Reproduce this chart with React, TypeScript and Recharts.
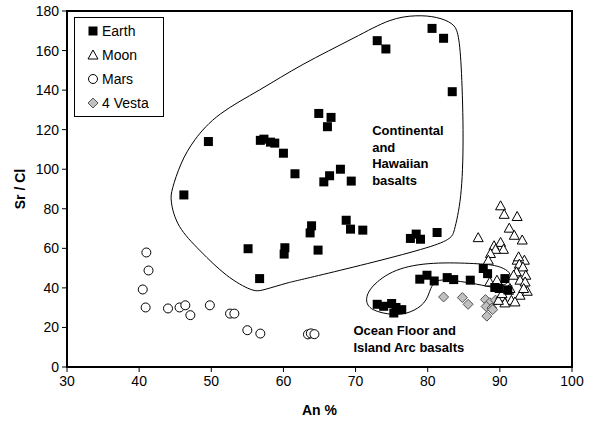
import React from 'react'
import {
  ScatterChart,
  Scatter,
  XAxis,
  YAxis,
  ReferenceArea,
  ReferenceDot,
  Legend
} from 'recharts'

const FONT = '"Liberation Sans", Arial, Helvetica, sans-serif'

const xTicks = [30, 40, 50, 60, 70, 80, 90, 100]
const yTicks = [0, 20, 40, 60, 80, 100, 120, 140, 160, 180]

const earth = [
  { x: 46.2, y: 87 }, { x: 49.6, y: 114 }, { x: 56.8, y: 114.6 }, { x: 57.3, y: 115.2 },
  { x: 58.2, y: 113.7 }, { x: 58.8, y: 113.2 }, { x: 60.0, y: 108.1 }, { x: 61.6, y: 97.7 },
  { x: 80.6, y: 171.2 }, { x: 82.2, y: 166.2 }, { x: 73.0, y: 165 }, { x: 74.2, y: 160.8 },
  { x: 83.4, y: 139.2 }, { x: 64.9, y: 128.2 }, { x: 66.6, y: 126.2 }, { x: 66.1, y: 121.5 },
  { x: 65.6, y: 93.6 }, { x: 66.4, y: 96.7 }, { x: 67.9, y: 100 }, { x: 69.4, y: 94 },
  { x: 63.9, y: 71.4 }, { x: 63.7, y: 67.8 }, { x: 68.7, y: 74.2 }, { x: 69.3, y: 69.7 },
  { x: 71.0, y: 69.2 }, { x: 60.2, y: 60.3 }, { x: 60.1, y: 57.1 }, { x: 64.8, y: 59.1 },
  { x: 55.1, y: 59.8 }, { x: 56.7, y: 44.7 }, { x: 77.6, y: 65 }, { x: 78.4, y: 67.2 },
  { x: 79.0, y: 64.6 }, { x: 81.3, y: 68 }, { x: 78.9, y: 44.4 }, { x: 79.9, y: 46.4 },
  { x: 80.9, y: 43.5 }, { x: 82.7, y: 45.2 }, { x: 83.6, y: 44.2 }, { x: 85.9, y: 43.9 },
  { x: 87.7, y: 49.8 }, { x: 88.3, y: 47.2 }, { x: 90.7, y: 44.7 }, { x: 89.3, y: 40.2 },
  { x: 89.9, y: 39.7 }, { x: 91.1, y: 39.0 }, { x: 73.0, y: 31.7 }, { x: 73.9, y: 30.7 },
  { x: 75.0, y: 32.1 }, { x: 75.6, y: 30.1 }, { x: 76.4, y: 29.0 }, { x: 75.3, y: 27.3 }
]

const moon = [
  { x: 90.1, y: 81.5 }, { x: 90.6, y: 77.2 }, { x: 92.4, y: 76.1 }, { x: 91.3, y: 70.2 },
  { x: 87.0, y: 65.4 }, { x: 92.0, y: 66.6 }, { x: 93.1, y: 64.2 }, { x: 90.1, y: 63.0 },
  { x: 89.2, y: 61.3 }, { x: 90.5, y: 59.5 }, { x: 89.4, y: 59.5 }, { x: 88.7, y: 57.4 },
  { x: 88.4, y: 54.0 }, { x: 92.4, y: 54.0 }, { x: 93.4, y: 54.0 }, { x: 92.6, y: 55.7 },
  { x: 92.7, y: 52.0 }, { x: 93.2, y: 50.6 }, { x: 92.3, y: 48.1 }, { x: 93.6, y: 46.4 },
  { x: 91.9, y: 46.4 }, { x: 88.6, y: 43.0 }, { x: 89.6, y: 43.9 }, { x: 92.8, y: 43.9 },
  { x: 93.5, y: 43.0 }, { x: 91.2, y: 38.8 }, { x: 92.8, y: 36.3 }, { x: 93.8, y: 38.3 },
  { x: 90.3, y: 35.4 }, { x: 91.6, y: 33.7 }, { x: 90.7, y: 32.4 }, { x: 92.1, y: 32.9 },
  { x: 89.8, y: 33.7 }, { x: 93.3, y: 39.7 }, { x: 91.4, y: 39.7 }, { x: 90.3, y: 37.1 }
]

const mars = [
  { x: 41.0, y: 57.9 }, { x: 41.3, y: 48.8 }, { x: 40.5, y: 39.2 }, { x: 40.9, y: 30.1 },
  { x: 44.0, y: 29.6 }, { x: 45.6, y: 30.1 }, { x: 46.4, y: 31.2 }, { x: 47.1, y: 26.2 },
  { x: 49.8, y: 31.2 }, { x: 52.6, y: 27.0 }, { x: 53.2, y: 27.0 }, { x: 55.0, y: 18.6 },
  { x: 56.8, y: 16.9 }, { x: 63.4, y: 16.5 }, { x: 63.8, y: 17.0 }, { x: 64.3, y: 16.6 }
]

const vesta = [
  { x: 82.2, y: 35.4 }, { x: 84.8, y: 35.1 }, { x: 85.6, y: 31.7 }, { x: 88.0, y: 34.1 },
  { x: 88.6, y: 32.5 }, { x: 88.1, y: 30.6 }, { x: 88.9, y: 29.8 }, { x: 88.2, y: 25.7 },
  { x: 89.4, y: 33.8 }, { x: 90.1, y: 34.6 }, { x: 89.0, y: 29.0 }
]

// outline vertices, data units
const continentalOutline = [
  { x: 55.8, y: 38.0 }, { x: 52.1, y: 45.5 }, { x: 48.4, y: 58.9 }, { x: 45.2, y: 70.9 },
  { x: 44.3, y: 84.4 }, { x: 44.5, y: 89.4 }, { x: 45.7, y: 102.9 }, { x: 47.5, y: 114.7 },
  { x: 50.8, y: 128.2 }, { x: 56.8, y: 140 }, { x: 62.3, y: 152.7 }, { x: 70.2, y: 167 },
  { x: 74.8, y: 176.3 }, { x: 78.5, y: 178 }, { x: 81.3, y: 177.1 }, { x: 83.6, y: 173.8 },
  { x: 84.3, y: 168.7 }, { x: 84.7, y: 151.8 }, { x: 85.0, y: 114.7 }, { x: 84.7, y: 84.4 },
  { x: 83.6, y: 67.5 }, { x: 83.1, y: 62.4 }, { x: 62.3, y: 43.9 }, { x: 60.9, y: 43.0 },
  { x: 57.0, y: 38.6 }
]

const oceanOutline = [
  { x: 75.3, y: 49.8 }, { x: 80.6, y: 53.1 }, { x: 87.0, y: 52.3 }, { x: 89.4, y: 51.5 },
  { x: 90.9, y: 49.4 }, { x: 91.7, y: 46.4 }, { x: 90.9, y: 41.3 }, { x: 89.4, y: 39.8 },
  { x: 87.7, y: 41.3 }, { x: 84.5, y: 43.4 }, { x: 81.7, y: 44.4 }, { x: 80.8, y: 42.8 },
  { x: 80.3, y: 38.8 }, { x: 79.7, y: 32.1 }, { x: 77.6, y: 27.3 }, { x: 75.3, y: 26.0 },
  { x: 72.0, y: 28.6 }, { x: 71.3, y: 33.8 }, { x: 72.0, y: 40.5 }
]

const continentalLabel = ['Continental', 'and', 'Hawaiian', 'basalts']
const oceanLabel = ['Ocean Floor and', 'Island Arc basalts']

const Square = ({ cx, cy }: any) => (
  <rect x={cx - 4.5} y={cy - 4.5} width={9} height={9} fill="#000" />
)
const Triangle = ({ cx, cy }: any) => (
  <path d={`M${cx},${cy - 5}L${cx + 5},${cy + 4}L${cx - 5},${cy + 4}Z`} fill="#fff" stroke="#000" strokeWidth={1} />
)
const Circle = ({ cx, cy }: any) => (
  <circle cx={cx} cy={cy} r={4.5} fill="#fff" stroke="#000" strokeWidth={1} />
)
const Diamond = ({ cx, cy }: any) => (
  <path d={`M${cx},${cy - 5}L${cx + 5},${cy}L${cx},${cy + 5}L${cx - 5},${cy}Z`} fill="#c0c0c0" stroke="#555" strokeWidth={1} />
)
const NoMark = () => <g />

const legendItems = [
  { name: 'Earth', Icon: Square },
  { name: 'Moon', Icon: Triangle },
  { name: 'Mars', Icon: Circle },
  { name: '4 Vesta', Icon: Diamond }
]

const LegendBox = () => (
  <div
    style={{
      border: '1px solid #000',
      background: '#fff',
      width: 88,
      paddingTop: 1,
      paddingBottom: 1,
      fontFamily: FONT,
      fontSize: 14,
      color: '#000'
    }}
  >
    {legendItems.map(({ name, Icon }) => (
      <div key={name} style={{ display: 'flex', alignItems: 'center', height: 24 }}>
        <svg width={12} height={12} style={{ marginLeft: 12, marginRight: 3 }}>
          <Icon cx={6} cy={6} />
        </svg>
        <span>{name}</span>
      </div>
    ))}
  </div>
)

const MultiLine = (lines: string[], lineHeight: number) => (props: any) => {
  const { viewBox } = props
  return (
    <text
      x={viewBox.x}
      y={viewBox.y}
      fontFamily={FONT}
      fontSize={13}
      fontWeight="bold"
      fill="#000"
      dominantBaseline="central"
    >
      {lines.map((line, i) => (
        <tspan key={line} x={viewBox.x} dy={i === 0 ? 0 : lineHeight}>
          {line}
        </tspan>
      ))}
    </text>
  )
}

const YTitle = (props: any) => {
  const { viewBox } = props
  const cx = 20
  const cy = viewBox.y + viewBox.height / 2
  return (
    <text
      x={cx}
      y={cy}
      transform={`rotate(-90, ${cx}, ${cy})`}
      textAnchor="middle"
      dominantBaseline="central"
      fontFamily={FONT}
      fontSize={14}
      fontWeight="bold"
      fill="#000"
    >
      Sr / Cl
    </text>
  )
}

const XTitle = (props: any) => {
  const { viewBox } = props
  return (
    <text
      x={viewBox.x + viewBox.width / 2}
      y={410}
      textAnchor="middle"
      dominantBaseline="central"
      fontFamily={FONT}
      fontSize={14}
      fontWeight="bold"
      fill="#000"
    >
      An %
    </text>
  )
}

const tickStyle = { fontFamily: FONT, fontSize: 14, fill: '#000' }

export default function App() {
  return (
    <div style={{ position: 'absolute', left: 0, top: 0, width: 590, height: 422, background: '#fff' }}>
      <ScatterChart width={590} height={422} margin={{ top: 11, right: 18, left: 27, bottom: 25 }}>
        <XAxis
          type="number"
          dataKey="x"
          domain={[30, 100]}
          ticks={xTicks}
          allowDataOverflow
          axisLine={{ stroke: '#000', strokeWidth: 2 }}
          tickLine={{ stroke: '#000', strokeWidth: 1 }}
          tickSize={5}
          tickMargin={4}
          tick={tickStyle}
          height={30}
          label={<XTitle />}
        />
        <YAxis
          type="number"
          dataKey="y"
          domain={[0, 180]}
          ticks={yTicks}
          allowDataOverflow
          axisLine={{ stroke: '#000', strokeWidth: 2 }}
          tickLine={{ stroke: '#000', strokeWidth: 1 }}
          tickSize={5}
          tickMargin={3}
          tick={tickStyle}
          width={40}
          label={<YTitle />}
        />
        <ReferenceArea x1={30} x2={100} y1={0} y2={180} fill="none" stroke="#000" strokeWidth={2} />
        <Scatter
          name="continental"
          data={continentalOutline}
          shape={NoMark}
          line={{ stroke: '#000', strokeWidth: 1 }}
          lineType="joint"
          lineJointType="basisClosed"
          legendType="none"
          isAnimationActive={false}
        />
        <Scatter
          name="ocean"
          data={oceanOutline}
          shape={NoMark}
          line={{ stroke: '#000', strokeWidth: 1 }}
          lineType="joint"
          lineJointType="basisClosed"
          legendType="none"
          isAnimationActive={false}
        />
        <Scatter name="Mars" data={mars} shape={Circle} isAnimationActive={false} />
        <Scatter name="4 Vesta" data={vesta} shape={Diamond} isAnimationActive={false} />
        <Scatter name="Moon" data={moon} shape={Triangle} isAnimationActive={false} />
        <Scatter name="Earth" data={earth} shape={Square} isAnimationActive={false} />
        <ReferenceDot x={72.3} y={119.8} r={0} fill="none" stroke="none" label={MultiLine(continentalLabel, 16.7)} />
        <ReferenceDot x={69.7} y={18.6} r={0} fill="none" stroke="none" label={MultiLine(oceanLabel, 16.7)} />
        <Legend
          layout="horizontal"
          verticalAlign="middle"
          align="center"
          content={<LegendBox />}
          wrapperStyle={{ left: 74, top: 17, width: 'auto', height: 'auto' }}
        />
      </ScatterChart>
    </div>
  )
}
